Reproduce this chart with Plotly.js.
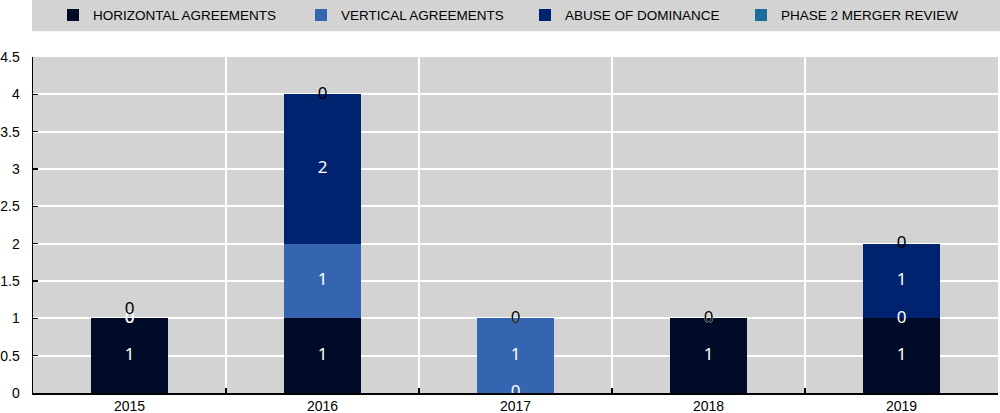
<!DOCTYPE html>
<html>
<head>
<meta charset="utf-8">
<script src="https://cdn.plot.ly/plotly-3.0.1.min.js"></script>
<style>
html,body{margin:0;padding:0;background:#fff;}
#chart{width:1000px;height:413px;}
</style>
</head>
<body>
<div id="chart"></div>
<script>
// ---- data ----
var years = ['2015', '2016', '2017', '2018', '2019'];
var horizontal = [1, 1, 0, 1, 1];
var vertical = [0, 1, 1, 0, 0];
var abuse = [0, 2, 0, 0, 1];
var phase2 = [0, 0, 0, 0, 0];
var seriesNames = ['HORIZONTAL AGREEMENTS', 'VERTICAL AGREEMENTS', 'ABUSE OF DOMINANCE', 'PHASE 2 MERGER REVIEW'];
var seriesColors = ['#000b27', '#3565b0', '#002370', '#1c6c9e'];

var series = [horizontal, vertical, abuse, phase2];
var labelFont = 'Noto Sans, Open Sans, sans-serif';
var axisFont = 'Liberation Sans, Arial, sans-serif';
var legendIds = ['legend', 'legend2', 'legend3', 'legend4'];
var legendX = [0.053, 0.301, 0.525, 0.741];

var traces = [];
series.forEach(function (vals, i) {
  traces.push({
    type: 'bar', x: years, y: vals, name: seriesNames[i],
    legend: legendIds[i],
    marker: {color: seriesColors[i], line: {width: 0}},
    hoverinfo: 'x+y+name'
  });
});

// value labels: white at segment centres for first three series, black at top for last
var base = years.map(function () { return 0; });
series.forEach(function (vals, i) {
  var ys = [], txt = [], pos = [];
  vals.forEach(function (v, j) {
    ys.push(i === 3 ? base[j] + v : base[j] + v / 2);
    txt.push(String(v));
    pos.push(i === 3 && j === 0 ? 'top center' : 'middle center');
    base[j] += v;
  });
  traces.push({
    type: 'scatter', mode: 'text', x: years, y: ys, text: txt,
    textposition: pos,
    textfont: {family: labelFont, size: 17, color: i === 3 ? '#000000' : '#ffffff'},
    showlegend: false, hoverinfo: 'skip', cliponaxis: true
  });
});

var layout = {
  width: 1000, height: 413,
  margin: {l: 33, r: 2, t: 57, b: 20, pad: 0},
  paper_bgcolor: '#ffffff',
  plot_bgcolor: '#d3d3d3',
  barmode: 'stack',
  bargap: 0.6,
  showlegend: true,
  shapes: [{
    type: 'rect', xref: 'paper', yref: 'paper',
    x0: -0.001, x1: 1.003, y0: 1.077, y1: 1.172,
    fillcolor: '#d3d3d3', line: {width: 0}, layer: 'below'
  }],
  xaxis: {
    type: 'category', tickson: 'boundaries',
    showgrid: true, gridcolor: '#ffffff', gridwidth: 2,
    ticks: 'inside', ticklen: 5, tickwidth: 1.5, tickcolor: '#000000',
    ticklabelstandoff: 0,
    showline: true, linecolor: '#000000', linewidth: 1.5,
    tickfont: {family: axisFont, size: 14, color: '#000000'},
    fixedrange: true
  },
  yaxis: {
    range: [0, 4.5], dtick: 0.5, tick0: 0,
    showgrid: true, gridcolor: '#ffffff', gridwidth: 2,
    zeroline: false,
    ticks: 'inside', ticklen: 5, tickwidth: 1.5, tickcolor: '#000000',
    ticklabelstandoff: 9,
    showline: true, linecolor: '#000000', linewidth: 1.5,
    tickfont: {family: axisFont, size: 14, color: '#000000'},
    fixedrange: true
  }
};

legendIds.forEach(function (id, i) {
  layout[id] = {
    orientation: 'h', xref: 'container', yref: 'container',
    x: legendX[i], xanchor: 'left', y: 0.963, yanchor: 'middle',
    bgcolor: 'rgba(0,0,0,0)', borderwidth: 0,
    font: {family: axisFont, size: 13.5, color: '#000000'},
    itemclick: false, itemdoubleclick: false
  };
});

Plotly.newPlot('chart', traces, layout, {displayModeBar: false, staticPlot: true});
</script>
</body>
</html>
